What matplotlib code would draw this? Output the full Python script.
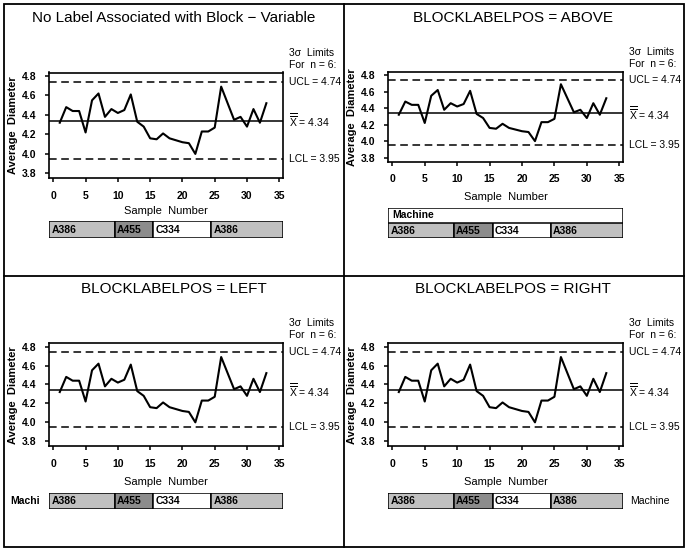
import matplotlib
matplotlib.use('Agg')
import matplotlib.pyplot as plt
from matplotlib.patches import Rectangle
from matplotlib.lines import Line2D

plt.rcParams['font.family'] = ['Liberation Sans', 'DejaVu Sans']
plt.rcParams['mathtext.fontset'] = 'custom'
plt.rcParams['mathtext.rm'] = 'Liberation Sans'
plt.rcParams['mathtext.it'] = 'Liberation Sans'

# sample means (machine diameters, subgroup size 6)
sample = list(range(1, 34))
avg_diameter = [4.32, 4.48, 4.44, 4.44, 4.22, 4.55, 4.62, 4.38, 4.46, 4.42,
                4.45, 4.61, 4.33, 4.28, 4.16, 4.15, 4.21, 4.16, 4.14, 4.12,
                4.11, 4.00, 4.23, 4.23, 4.27, 4.69, 4.52, 4.35, 4.38, 4.28,
                4.46, 4.32, 4.52]
ucl = 4.74
center = 4.34
lcl = 3.95
n_size = 6

machines = ['A386', 'A455', 'C334', 'A386']
block_sizes = [9, 6, 9, 9]
block_colors = ['#c0c0c0', '#8c8c8c', '#ffffff', '#c0c0c0']

titles = ['No Label Associated with Block \u2212 Variable',
          'BLOCKLABELPOS = ABOVE',
          'BLOCKLABELPOS = LEFT',
          'BLOCKLABELPOS = RIGHT']
x_ticks = [0, 5, 10, 15, 20, 25, 30, 35]
y_ticks = [3.8, 4.0, 4.2, 4.4, 4.6, 4.8]

W, H = 690, 554
XMIN, XMAX = -0.62, 35.53
YMIN, YMAX = 3.75, 4.835


def fbox(l, t, r, b):
    return [l / W, 1 - b / H, (r - l) / W, (b - t) / H]


fig = plt.figure(figsize=(W / 100, H / 100), dpi=100)

# outer frame and dividers
fig.add_artist(Rectangle((4 / W, 1 - 547 / H), 680 / W, 543 / H, transform=fig.transFigure,
                         fill=False, lw=1.3, ec='black'))
fig.add_artist(Line2D([344.3 / W, 344.3 / W], [1 - 4 / H, 1 - 547 / H], transform=fig.transFigure,
                      color='black', lw=1.3))
fig.add_artist(Line2D([4 / W, 684 / W], [1 - 276 / H, 1 - 276 / H], transform=fig.transFigure,
                      color='black', lw=1.3))

# per panel layout: (left, right, ax top, ax bottom, block top, block bottom, title y, xlabel y, mode)
panels = [
    (49.3, 282.7, 72.5, 178.3, 221.0, 238.3, 18, 211, 'none'),
    (388.3, 622.7, 72.3, 161.7, 223.3, 237.7, 18, 197, 'above'),
    (49.3, 282.7, 343.3, 446.0, 493.3, 509.0, 289, 482, 'left'),
    (388.3, 622.7, 343.3, 446.0, 493.3, 509.0, 289, 482, 'right'),
]

for title, (l, r, t, b, bt, bb, ty, xly, mode) in zip(titles, panels):
    ax = fig.add_axes(fbox(l, t, r, b))
    ax.plot(sample, avg_diameter, color='black', lw=1.5)
    ax.axhline(center, color='black', lw=1.1)
    ax.axhline(ucl, color='black', lw=1.1, ls=(0, (5, 3)))
    ax.axhline(lcl, color='black', lw=1.1, ls=(0, (5, 3)))
    ax.set_xlim(XMIN, XMAX)
    ax.set_ylim(YMIN, YMAX)
    ax.set_xticks(x_ticks)
    ax.set_yticks(y_ticks)
    ax.set_yticklabels(['%.1f' % v for v in y_ticks])
    ax.tick_params(axis='both', direction='out', length=3.2, width=1.1, labelsize=7.5, pad=6)
    for lab in ax.get_xticklabels() + ax.get_yticklabels():
        lab.set_fontweight('bold')
    for sp in ax.spines.values():
        sp.set_linewidth(1.2)
    ax.set_ylabel('Average  Diameter', fontsize=8, fontweight='bold')
    # right edge of the rotated label sits about 31 px left of the axis
    ax.yaxis.set_label_coords(-31 / (r - l), 0.5)

    xc = (l + r) / 2
    panel_cx = 174 if l < 300 else 513
    fig.text(panel_cx / W, 1 - ty / H, title, ha='center', va='center', fontsize=11)
    fig.text(xc / W, 1 - xly / H, 'Sample  Number', ha='center', va='center', fontsize=8)

    # limit labels on the right
    tx = (r + 6 - l) / (r - l)
    trans = ax.get_yaxis_transform()
    ax.text(tx, ucl, 'UCL = %.2f' % ucl, transform=trans, va='center', fontsize=7.5, clip_on=False)
    ax.text(tx, center, r'$\overline{\overline{\mathrm{X}}}$ = %.2f' % center, transform=trans,
            va='center', fontsize=7.5, clip_on=False)
    ax.text(tx, lcl, 'LCL = %.2f' % lcl, transform=trans, va='center', fontsize=7.5, clip_on=False)
    fig.text((r + 6) / W, 1 - (t - 20) / H, '3\u03c3  Limits', va='center', fontsize=7.5)
    fig.text((r + 6) / W, 1 - (t - 8) / H, 'For  n = %d:' % n_size, va='center', fontsize=7.5)

    # block bar
    bx = fig.add_axes(fbox(l, bt, r, bb))
    bx.set_xlim(XMIN, XMAX)
    bx.set_ylim(0, 1)
    bx.axis('off')
    start = XMIN
    pos = 0
    for i, (name, size, col) in enumerate(zip(machines, block_sizes, block_colors)):
        pos += size
        end = XMAX if i == len(machines) - 1 else pos + 0.5
        bx.add_patch(Rectangle((start, 0), end - start, 1, fc=col, ec='black', lw=1.1))
        bx.text(start + 0.3, 0.5, name, va='center', ha='left', fontsize=7.5, fontweight='bold')
        start = end

    if mode == 'above':
        hx = fig.add_axes(fbox(l, 207.7, r, bt))
        hx.set_xlim(0, 1)
        hx.set_ylim(0, 1)
        hx.axis('off')
        hx.add_patch(Rectangle((0, 0), 1, 1, fc='white', ec='black', lw=1.1))
        hx.text(0.015, 0.5, 'Machine', va='center', ha='left', fontsize=7.5, fontweight='bold')
    elif mode == 'left':
        fig.text(10 / W, 1 - (bt + bb) / 2 / H, 'Machi', va='center', ha='left', fontsize=7.5,
                 fontweight='bold')
    elif mode == 'right':
        fig.text(630 / W, 1 - (bt + bb) / 2 / H, 'Machine', va='center', ha='left', fontsize=7.5)

fig.savefig('out.png', dpi=100)
